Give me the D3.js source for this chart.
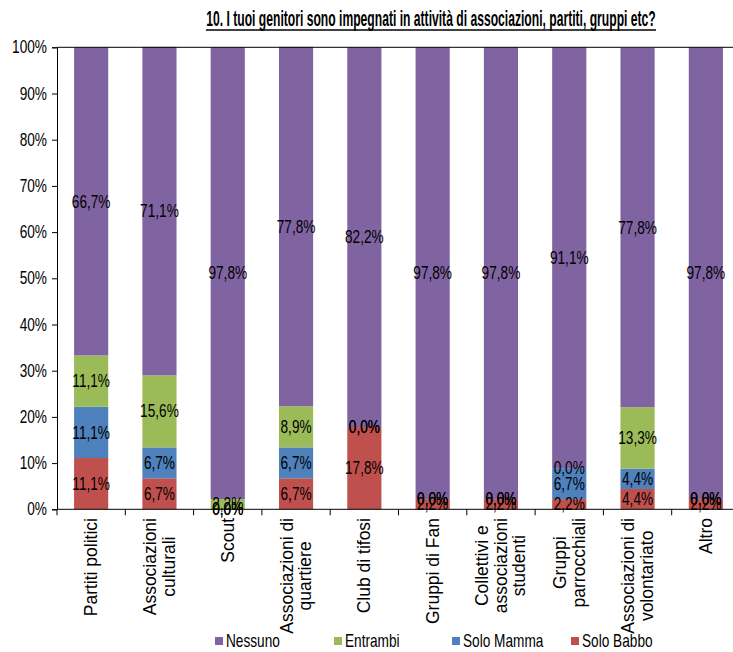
<!DOCTYPE html>
<html><head><meta charset="utf-8">
<script src="https://cdn.jsdelivr.net/npm/d3@7/dist/d3.min.js"></script>
<style>
body{margin:0;background:#fff;}
svg{display:block;}
</style></head>
<body>
<svg id="chart" width="733" height="652"></svg>
<script>
const categories = ["Partiti politici","Associazioni culturali","Scout","Associazioni di quartiere","Club di tifosi","Gruppi di Fan","Collettivi e associazioni studenti","Gruppi parrocchiali","Associazioni di volontariato","Altro"];
const categoryLines = [["Partiti politici"],["Associazioni","culturali"],["Scout"],["Associazioni di","quartiere"],["Club di tifosi"],["Gruppi di Fan"],["Collettivi e","associazioni","studenti"],["Gruppi","parrocchiali"],["Associazioni di","volontariato"],["Altro"]];
const soloBabbo = [11.1, 6.7, 0.0, 6.7, 17.8, 2.2, 2.2, 2.2, 4.4, 2.2];
const soloMamma = [11.1, 6.7, 0.0, 6.7, 0.0, 0.0, 0.0, 6.7, 4.4, 0.0];
const entrambi  = [11.1, 15.6, 2.2, 8.9, 0.0, 0.0, 0.0, 0.0, 13.3, 0.0];
const nessuno   = [66.7, 71.1, 97.8, 77.8, 82.2, 97.8, 97.8, 91.1, 77.8, 97.8];
const seriesNames = ["Solo Babbo","Solo Mamma","Entrambi","Nessuno"];
const seriesColors = ["#C0504D","#4F81BD","#9BBB59","#8064A2"];
const yTicks = [0,10,20,30,40,50,60,70,80,90,100];
const title = "10. I tuoi genitori sono impegnati in attività di associazioni, partiti, gruppi etc?";

const seriesValues = [soloBabbo, soloMamma, entrambi, nessuno];
const svg = d3.select("#chart");
const FONT = "'Liberation Sans',Arial,sans-serif";
const NARROW = 0.78;
const NFS = 17.5;

function narrowText(parent, px, py, str, opts = {}) {
  const t = parent.append("text")
    .attr("transform", `translate(${px},${py}) scale(${opts.scale || NARROW},1)`)
    .attr("x", 0).attr("y", 0)
    .attr("font-family", FONT).attr("font-size", opts.size || NFS).attr("fill", "#000")
    .attr("text-anchor", opts.anchor || "middle")
    .attr("dy", opts.dy || "0.35em")
    .text(str);
  return t;
}

const x = d3.scaleBand().domain(categories).range([57, 740]).paddingInner(0.5).paddingOuter(0.25);
const y = d3.scaleLinear().domain([0,100]).range([509.3, 47.3]);

// title (condensed via horizontal scale to fit the reference width)
const titleText = svg.append("text").attr("x", 0).attr("y", 0).attr("text-anchor","middle")
  .attr("font-family", FONT).attr("font-weight","bold").attr("font-size", 21.5).attr("fill","#000")
  .text(title);
const tw = titleText.node().getComputedTextLength();
titleText.attr("transform", `translate(431,26) scale(${450 / tw},1)`);
svg.append("line").attr("x1",206).attr("x2",656).attr("y1",30).attr("y2",30).attr("stroke","#000").attr("stroke-width",1.5);

// stacked data
const rows = categories.map((c,i) => {
  const r = {cat:c};
  seriesNames.forEach((s,j)=> r[s] = seriesValues[j][i]);
  return r;
});
const stack = d3.stack().keys(seriesNames)(rows);

const g = svg.append("g");
stack.forEach((layer, j) => {
  g.selectAll(null).data(layer).enter().append("rect")
    .attr("x", d => x(d.data.cat))
    .attr("width", x.bandwidth())
    .attr("y", d => y(d[1]))
    .attr("height", d => y(d[0]) - y(d[1]))
    .attr("fill", seriesColors[j]);
});

// top border line
svg.append("line").attr("x1",57).attr("x2",733).attr("y1",y(100)).attr("y2",y(100)).attr("stroke","#000").attr("stroke-width",1);

// y axis
const yAxis = svg.append("g").attr("transform","translate(57,0)")
  .call(d3.axisLeft(y).tickValues(yTicks).tickFormat("").tickSize(5));
yAxis.select(".domain").attr("stroke","#000");
yTicks.forEach(v => narrowText(svg, 47, y(v), v + "%", {anchor: "end"}));

// x axis
const xAxis = svg.append("g").attr("transform",`translate(0,${y(0)})`);
xAxis.append("line").attr("x1",57).attr("x2",733).attr("y1",0).attr("y2",0).attr("stroke","#000");
const step = x.step();
d3.range(categories.length+1).forEach(i=>{
  const xx = 57 + i*step;
  if (xx <= 733) xAxis.append("line").attr("x1",xx).attr("x2",xx).attr("y1",0).attr("y2",6).attr("stroke","#000");
});

// x labels (rotated, multi-line centered)
categories.forEach((c,i) => {
  const lines = categoryLines[i];
  const cx = x(c) + x.bandwidth()/2;
  const lg = svg.append("g");
  const texts = lines.map(l => lg.append("text").attr("font-family",FONT)
    .attr("font-size",17.5).attr("fill","#000").attr("text-anchor","middle").text(l));
  const maxW = d3.max(texts, tt => tt.node().getComputedTextLength());
  const cy = 518 + maxW/2;
  const lh = 18.5;
  const n = lines.length;
  texts.forEach((tt,k) => {
    const off = (k - (n-1)/2) * lh;
    const px = cx + off + 6;
    tt.attr("transform", `translate(${px},${cy}) rotate(-90)`).attr("x",0).attr("y",0);
  });
});

// data labels
stack.forEach((layer, j) => {
  layer.forEach(d => {
    narrowText(g, x(d.data.cat) + x.bandwidth()/2, (y(d[0]) + y(d[1]))/2,
      (d[1]-d[0]).toFixed(1).replace(".",",") + "%");
  });
});

// legend
const legendOrder = [3,2,1,0];
const legendX = [215, 334, 452, 571];
legendOrder.forEach((j,k) => {
  const lgG = svg.append("g").attr("transform",`translate(${legendX[k]},641)`);
  lgG.append("rect").attr("x",0).attr("y",-4).attr("width",8).attr("height",8).attr("fill",seriesColors[j]);
  narrowText(lgG, 11, 0, seriesNames[j], {anchor: "start"});
});
</script>
</body></html>
